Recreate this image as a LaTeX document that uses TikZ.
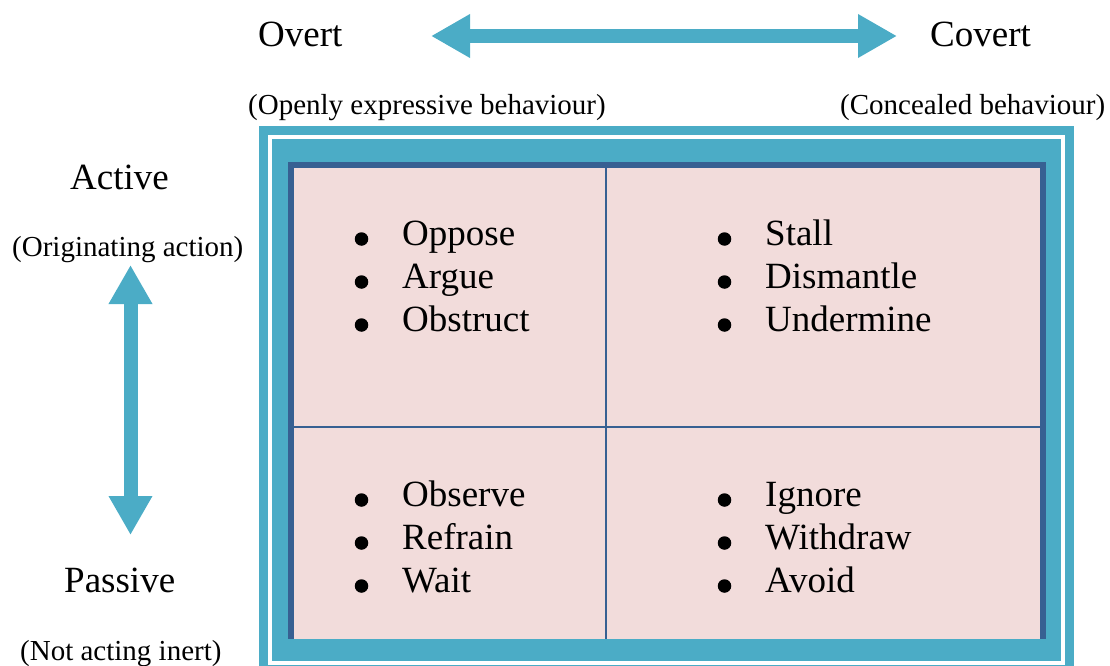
\documentclass[tikz,border=0pt]{standalone}
\usepackage{fontspec}
\setmainfont{Liberation Serif}
\usetikzlibrary{arrows.meta}
\definecolor{aqua}{HTML}{4BACC6}
\definecolor{navy}{HTML}{376092}
\definecolor{rose}{HTML}{F2DCDB}
\begin{document}
\begin{tikzpicture}[x=1pt,y=-1pt,
  big/.style={font=\fontsize{37}{44}\selectfont, inner sep=0pt, anchor=base west},
  small/.style={font=\fontsize{29}{35}\selectfont, inner sep=0pt, anchor=base west},
  dbl/.style={aqua, line width=14pt,
    {Triangle[length=39pt,width=41pt]}-{Triangle[length=39pt,width=41pt]}},
  dot/.style={circle, fill=black, inner sep=0pt, minimum size=13.5pt},
  grid line/.style={navy, line width=2pt}]
\useasboundingbox (0,0) rectangle (1110,666);

% layered frame around the quadrant grid
\begin{scope}
  \clip (0,0) rectangle (1110,666);
  \fill[aqua]  (259,126) rectangle (1074,700);
  \fill[white] (268,135) rectangle (1065,665);
  \fill[aqua]  (272,139) rectangle (1061,661);
  \fill[navy]  (288,162) rectangle (1046,639);
  \fill[rose]  (294,168) rectangle (1040,639);
\end{scope}
\draw[grid line] (606,168) -- (606,639);
\draw[grid line] (294,427) -- (1040,427);

% axis arrows
\coordinate (oL) at (431,36);
\coordinate (cR) at (897,36);
\draw[dbl] (oL) -- (cR);
\coordinate (aT) at (130.5,265);
\coordinate (pB) at (130.5,535);
\draw[dbl] (aT) -- (pB);

% axis labels
\node[big] (overt) at (258,47) {Overt};
\node[big] (covert) at (930,47) {Covert};
\node[small] (openly) at (248,114) {(Openly expressive behaviour)};
\node[small] (concealed) at (840,114) {(Concealed behaviour)};
\node[big] (active) at (70,189) {Active};
\node[small] (originating) at (12,256) {(Originating action)};
\node[big] (passive) at (64,592) {Passive};
\node[small] (inert) at (20,660) {(Not acting inert)};

% quadrant items
\foreach \bx/\tx/\y/\word/\id in {
  361.5/402/245/Oppose/q1a, 361.5/402/288/Argue/q1b, 361.5/402/331/Obstruct/q1c,
  724.5/765/245/Stall/q2a, 724.5/765/288/Dismantle/q2b, 724.5/765/331/Undermine/q2c,
  361.5/402/506/Observe/q3a, 361.5/402/549/Refrain/q3b, 361.5/402/592/Wait/q3c,
  724.5/765/506/Ignore/q4a, 724.5/765/549/Withdraw/q4b, 724.5/765/592/Avoid/q4c}{
  \node[dot] (b\id) at (\bx,\y-6) {};
  \node[big] (\id) at (\tx,\y) {\word};
}
\end{tikzpicture}
\end{document}
